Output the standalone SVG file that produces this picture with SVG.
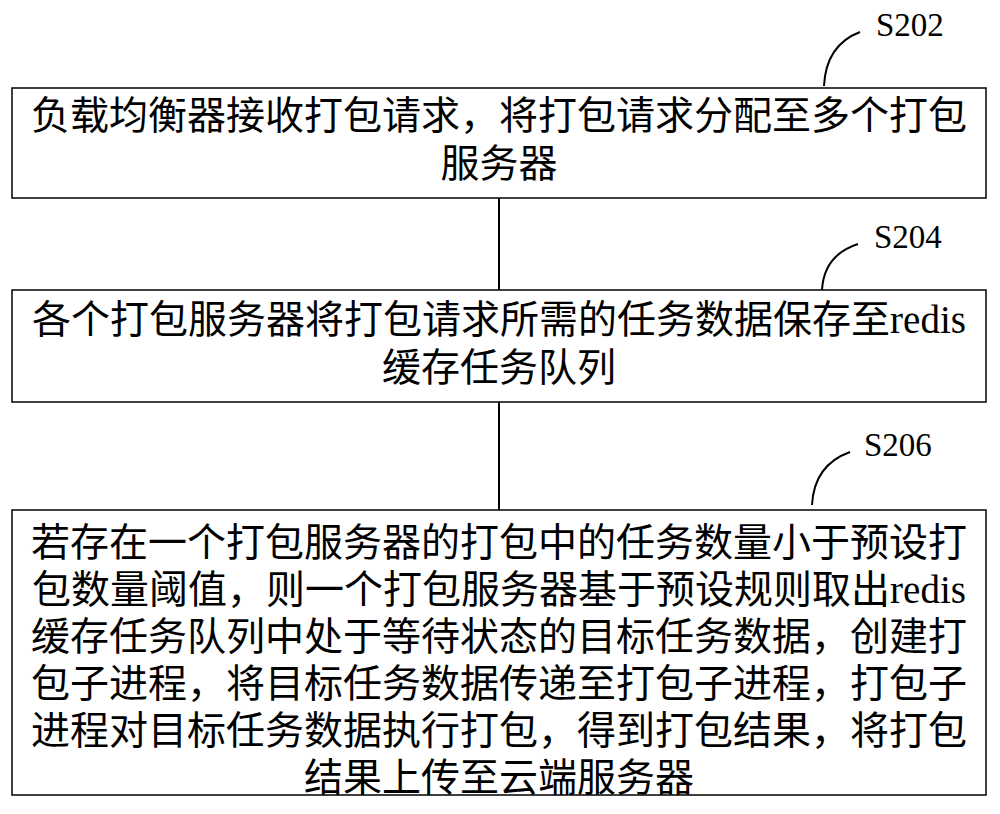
<svg xmlns="http://www.w3.org/2000/svg" width="1000" height="814" viewBox="0 0 1000 814">
<style>
.b{fill:#fff;stroke:#000;stroke-width:1.5}
.t{font-family:"Liberation Serif","Noto Sans CJK SC",serif;font-size:39px;text-anchor:middle;fill:#000}
.l{font-family:"Liberation Serif",serif;font-size:33px;fill:#000}
.c{fill:none;stroke:#000;stroke-width:2}
</style>
<rect width="1000" height="814" fill="#fff"/>
<g id="connectors">
<line class="c" x1="499" y1="198" x2="499" y2="290"/>
<line class="c" x1="499" y1="402" x2="499" y2="510"/>
<path class="c" d="M824 86 Q826 45 860 32"/>
<path class="c" d="M822 290 Q824 255 858 244"/>
<path class="c" d="M812 505 Q814 465 850 452"/>
</g>
<g id="n1">
<rect class="b" x="12" y="88" width="974" height="110"/>
<text class="t" x="499" y="129">负载均衡器接收打包请求，将打包请求分配至多个打包</text>
<text class="t" x="499" y="177">服务器</text>
<text class="l" x="876" y="36">S202</text>
</g>
<g id="n2">
<rect class="b" x="12" y="290" width="974" height="112"/>
<text class="t" x="499" y="333">各个打包服务器将打包请求所需的任务数据保存至redis</text>
<text class="t" x="499" y="381">缓存任务队列</text>
<text class="l" x="874" y="248">S204</text>
</g>
<g id="n3">
<rect class="b" x="12" y="510" width="974" height="285"/>
<text class="t" x="499" y="556">若存在一个打包服务器的打包中的任务数量小于预设打</text>
<text class="t" x="499" y="603">包数量阈值，则一个打包服务器基于预设规则取出redis</text>
<text class="t" x="499" y="650">缓存任务队列中处于等待状态的目标任务数据，创建打</text>
<text class="t" x="499" y="697">包子进程，将目标任务数据传递至打包子进程，打包子</text>
<text class="t" x="499" y="744">进程对目标任务数据执行打包，得到打包结果，将打包</text>
<text class="t" x="499" y="791">结果上传至云端服务器</text>
<text class="l" x="864" y="456">S206</text>
</g>
</svg>
